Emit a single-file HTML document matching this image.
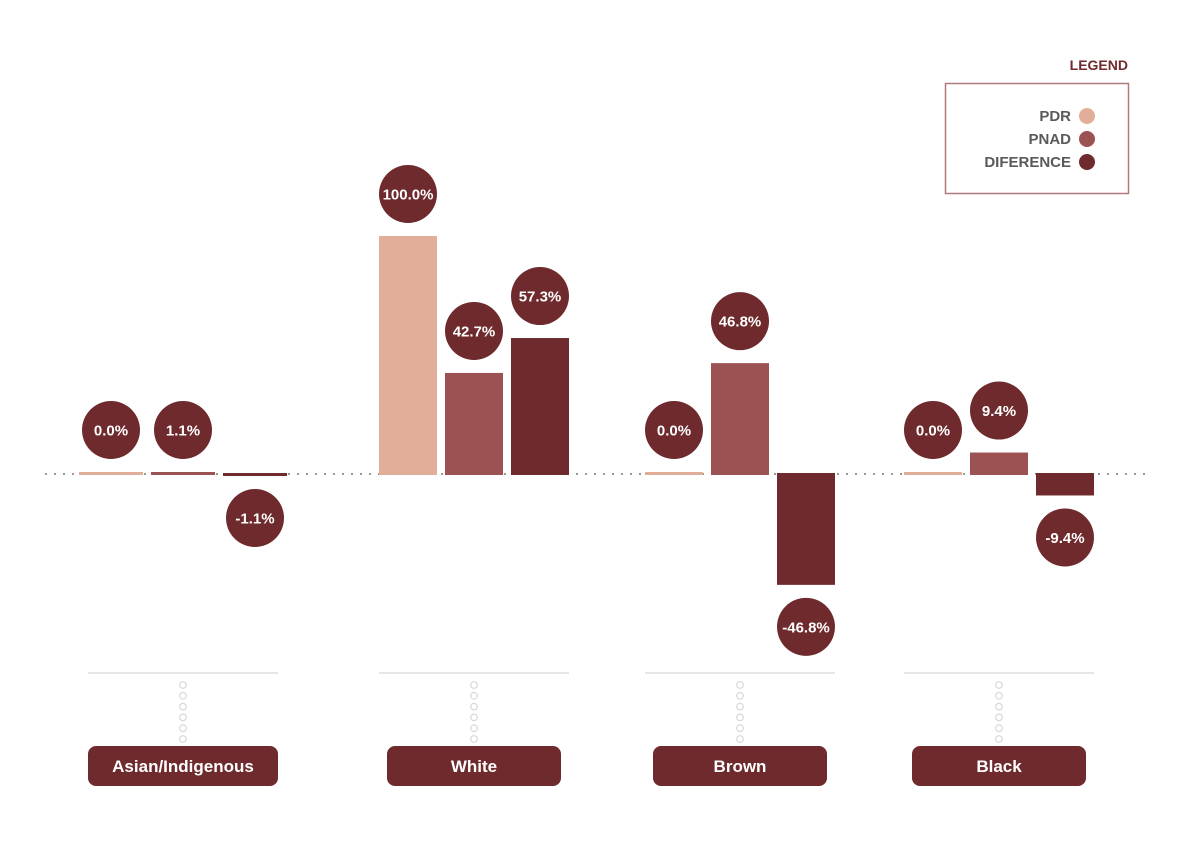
<!DOCTYPE html>
<html><head><meta charset="utf-8"><style>
body{margin:0;background:#fff;}
svg{display:block;font-family:"Liberation Sans",sans-serif;font-weight:bold;}
</style></head><body>
<svg id="chart" width="1200" height="849" viewBox="0 0 1200 849">
<text x="1128" y="70" text-anchor="end" font-size="14" fill="#6e2a2c">LEGEND</text>
<rect x="945.5" y="83.5" width="183" height="110" fill="none" stroke="#b07a7a" stroke-width="1.5"/>
<g><text x="1071" y="121" text-anchor="end" font-size="15" fill="#5a5a5a">PDR</text><circle cx="1087" cy="116" r="8" fill="#e0ae99"/></g>
<g><text x="1071" y="144" text-anchor="end" font-size="15" fill="#5a5a5a">PNAD</text><circle cx="1087" cy="139" r="8" fill="#9c5252"/></g>
<g><text x="1071" y="167" text-anchor="end" font-size="15" fill="#5a5a5a">DIFERENCE</text><circle cx="1087" cy="162" r="8" fill="#6e2a2c"/></g>
<line x1="45" y1="474" x2="1152" y2="474" stroke="#999" stroke-width="2" stroke-dasharray="2 7"/>
<g id="marks"></g>
</svg>
<script>
const categories = ["Asian/Indigenous","White","Brown","Black"];
const pdr = [0.0, 100.0, 0.0, 0.0];
const pnad = [1.1, 42.7, 46.8, 9.4];
const diff = [-1.1, 57.3, -46.8, -9.4];
const seriesColors = ["#e0ae99","#9c5252","#6e2a2c"];
const centers = [183, 474, 740, 999];
const barW = [64, 58, 58, 58];
const barStep = [72, 66, 66, 66];
const labelW = [190, 174, 174, 174];
const baseY = 474, scale = 2.39;
function y(v){ return baseY - v*scale; }
const NS = "http://www.w3.org/2000/svg";
const g = document.getElementById("marks");
function mk(tag, attrs){ const e = document.createElementNS(NS, tag); for (const k in attrs) e.setAttribute(k, attrs[k]); g.appendChild(e); return e; }
const series = [pdr, pnad, diff];
const snames = ["pdr","pnad","difference"];
categories.forEach((cat, i) => {
  series.forEach((arr, s) => {
    const v = arr[i];
    const cx = centers[i] + (s-1)*barStep[i];
    let h = Math.abs(v*scale); if (h < 3) h = 3;
    const top = v >= 0 ? baseY - h + 1 : baseY - 1;
    const r = mk("rect", {x: cx - barW[i]/2, y: top, width: barW[i], height: h, fill: seriesColors[s]});
    
    
    const cy = v >= 0 ? top - 42 : top + h + 42;
    const c = mk("circle", {cx: cx, cy: cy, r: 29, fill: "#6e2a2c"});
    
    
    const t = mk("text", {x: cx, y: cy + 5.5, "text-anchor": "middle", "font-size": "15", fill: "#fff"});
    t.textContent = v.toFixed(1) + "%";
    
    
  });
  const lw = 190;
  const l = mk("line", {x1: centers[i]-lw/2, y1: 673, x2: centers[i]+lw/2, y2: 673, stroke: "#ddd", "stroke-width": 1.5});
  
  
  for (let k = 0; k < 6; k++) {
    const d = mk("circle", {cx: centers[i], cy: 685 + k*10.8, r: 3.3, fill: "none", stroke: "#d8d8d8", "stroke-width": 1.2});
    
    
  }
  const b = mk("rect", {x: centers[i]-labelW[i]/2, y: 746, width: labelW[i], height: 40, rx: 8, fill: "#6e2a2c"});
  
  
  const lt = mk("text", {x: centers[i], y: 772, "text-anchor": "middle", "font-size": "17", fill: "#fff"});
  lt.textContent = cat;
  
  
});
</script>
</body></html>
